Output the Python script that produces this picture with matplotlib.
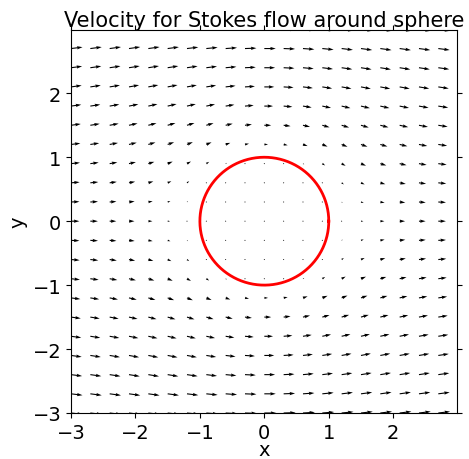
"""
Velocity field for Stokes flow around a sphere (radius 1, free stream U=1 along x).
Slice through z = 0, sphere drawn as a red circle.
"""
import matplotlib
matplotlib.use("Agg")
import matplotlib.pyplot as plt
import numpy as np

# grid of sample points
x_points = np.linspace(-3, 3, 21)
y_points = np.linspace(-3, 3, 21)
radius = 1.0
U_inf = 1.0

title = "Velocity for Stokes flow around sphere"
x_ticks = [-3, -2, -1, 0, 1, 2]
y_ticks = [-3, -2, -1, 0, 1, 2]

plt.rcParams["font.size"] = 14

# velocity field (Stokes solution, zero inside the sphere)
X, Y = np.meshgrid(x_points, y_points)
r = np.sqrt(X**2 + Y**2)
with np.errstate(divide="ignore", invalid="ignore"):
    u = U_inf * (1 - 3*radius/(4*r)*(1 + X**2/r**2)
                 - radius**3/(4*r**3)*(1 - 3*X**2/r**2))
    v = -U_inf * 3*radius*X*Y/(4*r**3) * (1 - radius**2/r**2)
inside = r <= radius
u[inside] = 0
v[inside] = 0

fig = plt.figure(figsize=(4.69, 4.6), dpi=100)
ax = fig.add_axes([0.1514, 0.1, 0.823, 0.8326])

ax.quiver(X, Y, u, v, scale_units="xy", scale=4.0)

theta = np.linspace(0, 2*np.pi, 400)
ax.plot(radius*np.cos(theta), radius*np.sin(theta), color="red", linewidth=2)

ax.set_xlim(-3, 2.99)
ax.set_ylim(-3, 2.99)
ax.set_xticks(x_ticks)
ax.set_yticks(y_ticks)
ax.tick_params(direction="out", top=True, right=True)
ax.set_xlabel("x", labelpad=-1.5)
ax.set_ylabel("y")
ax.set_title(title, fontsize=15, pad=3)

fig.savefig("out.png", dpi=100)
